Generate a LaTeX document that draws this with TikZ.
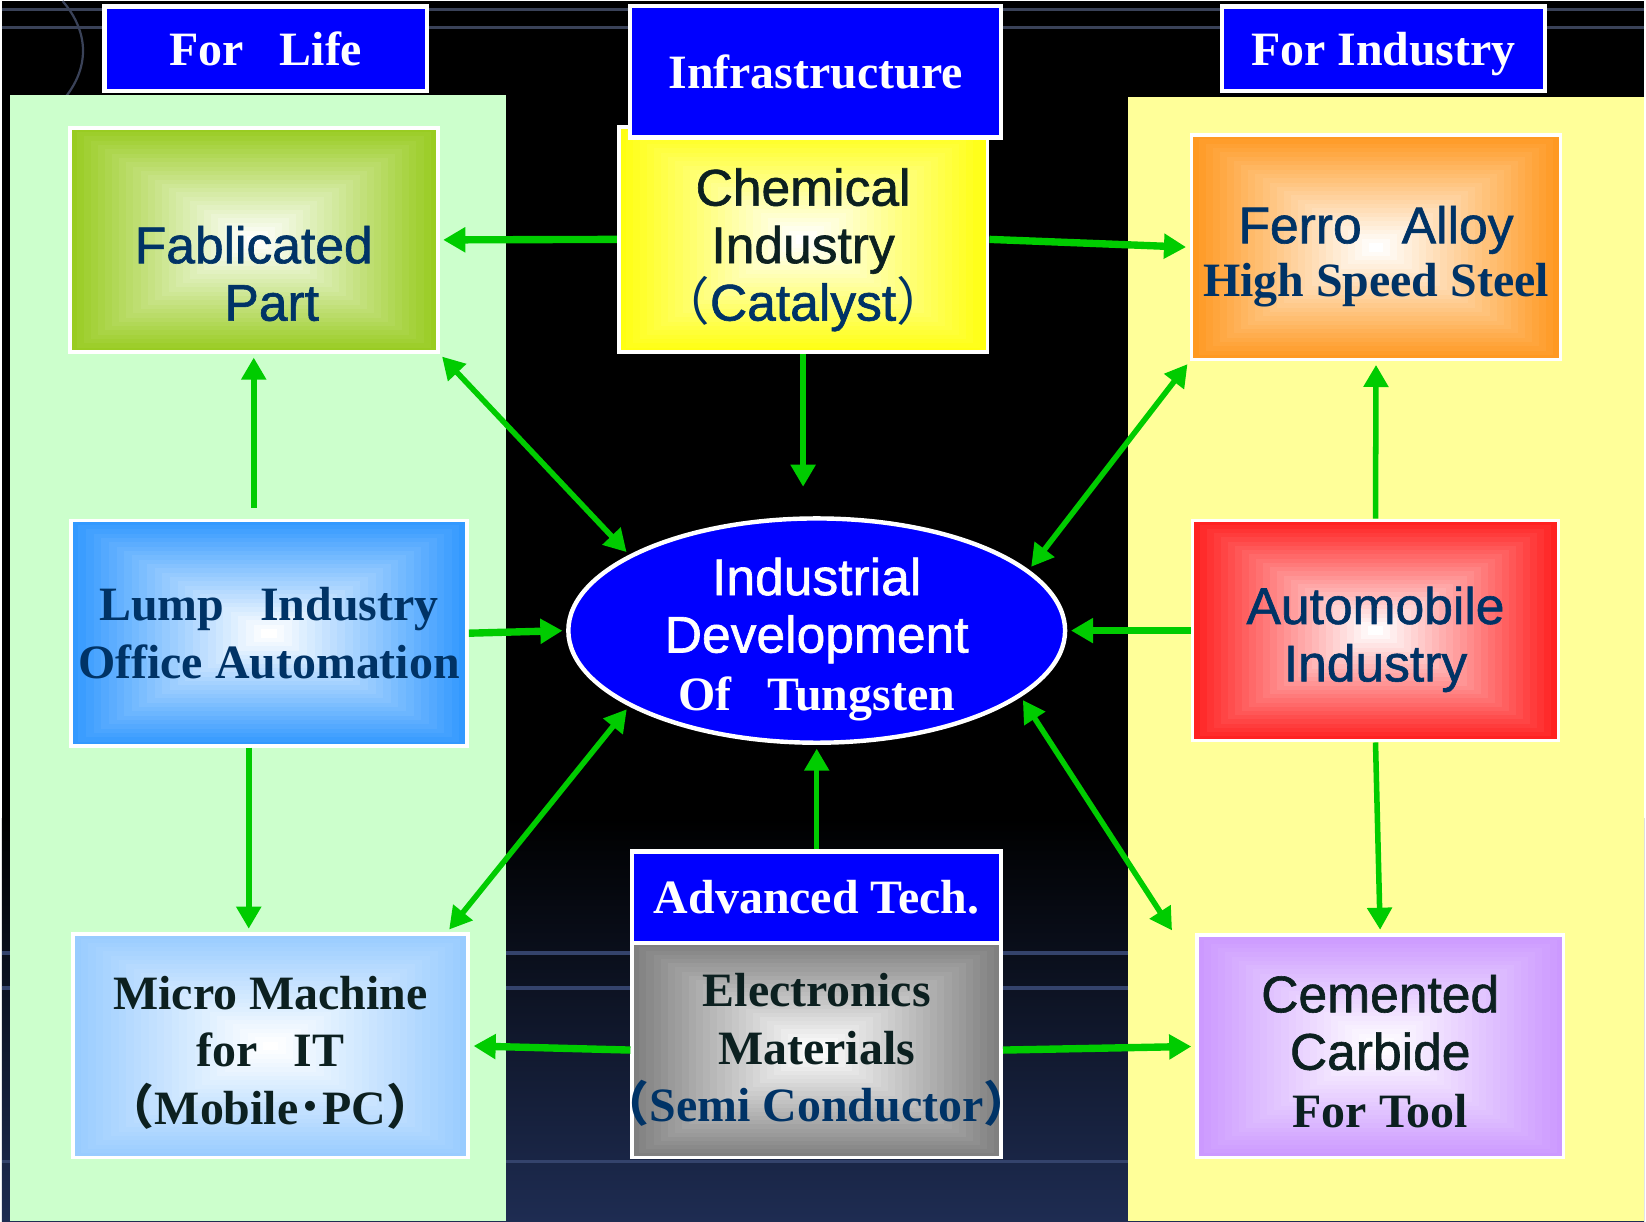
\documentclass[tikz,border=0pt]{standalone}
\usepackage{fontspec}
\setmainfont{Liberation Serif}
\setsansfont{Liberation Sans}[FakeBold=1.2]
\newfontfamily\cjk{Noto Sans CJK JP}
\usepackage{tikz}
\usetikzlibrary{arrows.meta, positioning, shapes.geometric, calc}

\definecolor{panelgreen}{HTML}{CCFFCC}
\definecolor{panelyellow}{HTML}{FFFF99}
\definecolor{headblue}{HTML}{0000FF}
\definecolor{arrowgreen}{HTML}{00CC00}
\definecolor{txtnavy}{HTML}{003366}
\definecolor{txtdark}{HTML}{0C2020}
\definecolor{bgnavy}{HTML}{1E2C52}
\definecolor{streak}{HTML}{34436C}
\definecolor{faint}{HTML}{3A4258}
\definecolor{cgreen}{HTML}{99CC22}
\definecolor{cyellow}{HTML}{FFFF11}
\definecolor{corange}{HTML}{FF9922}
\definecolor{cblue}{HTML}{3399FF}
\definecolor{cred}{HTML}{FF2222}
\definecolor{clight}{HTML}{99CCFF}
\definecolor{cgray}{HTML}{808080}
\definecolor{cviolet}{HTML}{CC99FF}

\newcommand{\sansline}[1]{{\sffamily\fontsize{14}{15.6}\selectfont #1}}
\newcommand{\serifline}[1]{{\rmfamily\bfseries\fontsize{13}{15.6}\selectfont #1}}

\begin{document}
\begin{tikzpicture}[x=0.01cm, y=-0.01cm,
	card/.style={draw=white, line width=1pt, fill=#1, inner sep=0pt, align=center,
		path picture={
			\foreach \k [evaluate=\k as \w using int(4*\k)] in {1,...,25}
				\fill[white!\w!#1] ($(path picture bounding box.north west)!\k/52!(path picture bounding box.south east)$) rectangle ($(path picture bounding box.south east)!\k/52!(path picture bounding box.north west)$);
		}},
	head/.style={draw=white, line width=1.2pt, fill=headblue, text=white, inner sep=0pt, text depth=0pt,
		font=\bfseries\fontsize{13}{15.6}\selectfont},
	sanstxt/.style={font=\sffamily\fontsize{14}{15.6}\selectfont},
	sertxt/.style={font=\bfseries\fontsize{13}{15.6}\selectfont},
	mixtxt/.style={font=\fontsize{14}{15.6}\selectfont},
	link/.style={draw=arrowgreen, line width=1.5pt, shorten >=1pt, -{Triangle[length=6pt,width=6.5pt]}},
	both/.style={link, {Triangle[length=6pt,width=6.5pt]}-{Triangle[length=6pt,width=6.5pt]}, shorten <=1pt},
	]

	% Hintergrund
	\fill[black] (0,0) rectangle (1568,1165);
	\shade[top color=black, bottom color=bgnavy] (0,780) rectangle (1568,1165);
	\foreach \y in {909,942,1108}
		\draw[streak, line width=1pt] (0,\y) -- (1568,\y);
	\draw[faint, line width=0.8pt] (0,8) -- (1568,8);
	\draw[faint, line width=0.8pt] (0,25) -- (1568,25);
	\draw[faint, line width=0.6pt] (58,0) .. controls (84,30) and (84,65) .. (58,95);

	% Felder
	\fill[panelgreen] (8,90) rectangle (481,1165);
	\fill[panelyellow] (1075,92) rectangle (1568,1165);

	% Kaesten links
	\node[card=cgreen, sanstxt, text=txtnavy, minimum width=3.51cm, minimum height=2.14cm, text height=44pt]
		(fab) at (240.5,228) {Fablicated\\\hspace*{0.7em}Part};
	\node[card=cblue, sertxt, text=txtnavy, minimum width=3.78cm, minimum height=2.15cm]
		(lump) at (255,603.5) {Lump\enspace\ Industry\\Office Automation};
	\node[card=clight, sertxt, text=txtdark, minimum width=3.77cm, minimum height=2.13cm, text height=44pt]
		(micro) at (256.5,997.5) {Micro Machine\\for\enspace\ IT\\{\cjk （}Mobile{\cjk ･}PC{\cjk ）}};

	% Kaesten Mitte
	\node[card=cyellow, sanstxt, text=txtdark, minimum width=3.52cm, minimum height=2.15cm, text height=47pt]
		(chem) at (765,227.5) {Chemical\\Industry\\\textcolor{txtnavy}{{\cjk （}Catalyst{\cjk ）}}};
	\node[card=cgray, sertxt, text=txtdark, minimum width=3.52cm, minimum height=2.05cm]
		(elec) at (778,1001.5) {Electronics\\Materials\\\hspace*{-0.68em}\textcolor{txtnavy}{{\cjk （}Semi Conductor{\cjk ）}}\hspace*{-0.68em}};
	\node[ellipse, draw=white, line width=1.2pt, fill=headblue, text=white, inner xsep=0pt, inner ysep=-12pt, align=center,
		mixtxt, minimum width=4.74cm, minimum height=2.14cm, text height=46pt]
		(dev) at (778,601) {\sansline{Industrial}\\\sansline{Development}\\\serifline{Of\enspace\ Tungsten}};

	% Kaesten rechts
	\node[card=corange, mixtxt, text=txtnavy, minimum width=3.52cm, minimum height=2.14cm, text height=29.5pt]
		(ferro) at (1312,235) {\sansline{Ferro\enspace\ Alloy}\\[-1.2pt]\serifline{High Speed Steel}};
	\node[card=cred, sanstxt, text=txtnavy, minimum width=3.49cm, minimum height=2.10cm, text height=30.5pt]
		(auto) at (1311.5,601) {Automobile\\Industry};
	\node[card=cviolet, mixtxt, text=txtdark, minimum width=3.50cm, minimum height=2.12cm, text height=44pt]
		(cem) at (1316,998) {\sansline{Cemented}\\\sansline{Carbide}\\\serifline{For Tool}};

	% Ueberschriften
	\node[head, minimum width=3.08cm, minimum height=0.81cm] (life) at (252,45.5) {For\enspace\ Life};
	\node[head, minimum width=3.54cm, minimum height=1.25cm] (infra) at (777,67.5) {Infrastructure};
	\node[head, minimum width=3.08cm, minimum height=0.81cm] (indus) at (1319,45.5) {For Industry};
	\node[head, minimum width=3.52cm, minimum height=0.87cm] (adv) at (778,855.5) {Advanced Tech.};

	% Pfeile
	\draw[link, line width=2pt] (chem.west) -- (fab.east);
	\draw[link, line width=2pt] (chem.east) -- (ferro.west);
	\draw[link, shorten >=8pt] (chem.south) -- (chem.south |- dev.north);
	\draw[both] (fab.south east) -- (dev.158);
	\draw[both] (ferro.south west) -- (dev.16);
	\draw[link, shorten <=3pt] (fab.south |- lump.north) -- (fab.south);
	\draw[link, line width=2pt] (lump.east) -- (dev.west);
	\draw[link, line width=2pt] (auto.west) -- (dev.east);
	\draw[link] (auto.north) -- (ferro.south);
	\draw[link] (lump.260) -- (micro.north -| lump.260);
	\draw[both] (dev.202) -- ($(micro.north east)+(-22,0)$);
	\draw[both] (dev.342) -- ($(cem.north west)+(-20,0)$);
	\draw[link] (adv.north) -- (dev.south);
	\draw[link] (auto.south) -- (cem.north);
	\draw[link, line width=2pt] (elec.west) -- (micro.east);
	\draw[link, line width=2pt] (elec.east) -- (cem.west);

	\useasboundingbox (0,0) rectangle (1568,1165);
\end{tikzpicture}
\end{document}
